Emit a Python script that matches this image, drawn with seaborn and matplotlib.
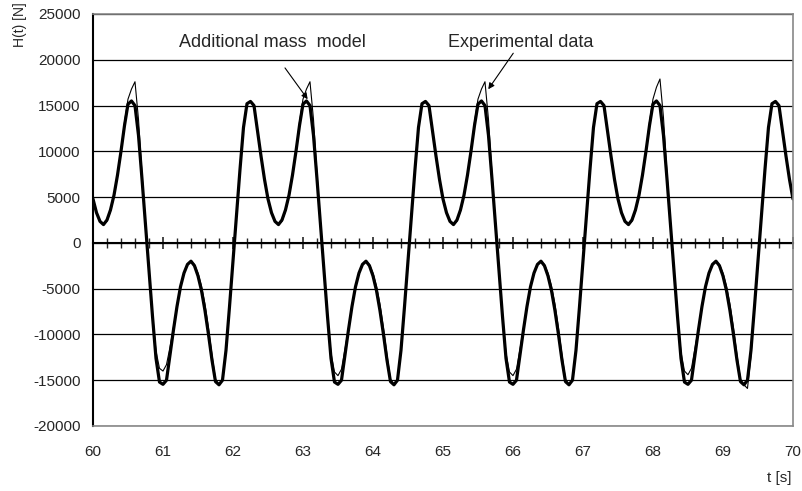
# H(t) force history, 60-70 s: additional mass model vs experimental data
import matplotlib
matplotlib.use("Agg")
import matplotlib.pyplot as plt
import numpy as np
import pandas as pd
import seaborn as sns
from matplotlib import ticker

# sample grid used when reading the curves off the picture (every 0.05 s)
time_s = np.round(np.arange(60.0, 70.0 + 0.001, 0.05), 2)

# thick line - additional mass model [N]
model_N = [
    4800, 3300, 2350, 2000, 2500, 3600, 5200, 7400, 10000, 12800, 15150, 15500, 15000, 11750, 7000, 2000,
    -3000, -8000, -12600, -15200, -15450, -15000, -12250, -9500, -6950, -4800, -3300, -2350, -2000,
    -2500, -3600, -5200, -7400, -10000, -12800, -15150, -15500, -15000, -11750, -7000, -2000,
    3000, 8000, 12600, 15200, 15450, 15000, 12250, 9500, 6950, 4800, 3300, 2350, 2000,
    2500, 3600, 5200, 7400, 10000, 12800, 15150, 15500, 15000, 11750, 7000, 2000,
    -3000, -8000, -12600, -15200, -15450, -15000, -12250, -9500, -6950, -4800, -3300, -2350, -2000,
    -2500, -3600, -5200, -7400, -10000, -12800, -15150, -15500, -15000, -11750, -7000, -2000,
    3000, 8000, 12600, 15200, 15450, 15000, 12250, 9500, 6950, 4800, 3300, 2350, 2000,
    2500, 3600, 5200, 7400, 10000, 12800, 15150, 15500, 15000, 11750, 7000, 2000,
    -3000, -8000, -12600, -15200, -15450, -15000, -12250, -9500, -6950, -4800, -3300, -2350, -2000,
    -2500, -3600, -5200, -7400, -10000, -12800, -15150, -15500, -15000, -11750, -7000, -2000,
    3000, 8000, 12600, 15200, 15450, 15000, 12250, 9500, 6950, 4800, 3300, 2350, 2000,
    2500, 3600, 5200, 7400, 10000, 12800, 15150, 15500, 15000, 11750, 7000, 2000,
    -3000, -8000, -12600, -15200, -15450, -15000, -12250, -9500, -6950, -4800, -3300, -2350, -2000,
    -2500, -3600, -5200, -7400, -10000, -12800, -15150, -15500, -15000, -11750, -7000, -2000,
    3000, 8000, 12600, 15200, 15450, 15000, 12250, 9500, 6950, 4800,
]

# thin line - experimental data [N]
experiment_N = [
    4900, 3400, 2400, 2000, 2350, 3450, 5050, 7300, 10000, 13200, 15700, 16800, 17600, 13500, 7600, 2200,
    -3000, -7800, -11800, -13700, -14000, -13300, -11400, -9200, -6900, -4800, -3300, -2350, -2000,
    -2350, -3300, -4700, -6700, -9300, -12200, -14900, -15450, -15000, -11800, -7000, -2000,
    3000, 8000, 12600, 15200, 15450, 15000, 12300, 9600, 7000, 4900, 3400, 2400, 2000,
    2350, 3450, 5050, 7300, 10000, 13200, 15700, 16800, 17600, 13500, 7600, 2200,
    -3000, -7900, -12000, -14100, -14500, -13800, -11600, -9300, -6900, -4800, -3300, -2350, -2000,
    -2350, -3300, -4700, -6700, -9300, -12200, -14900, -15450, -15000, -11800, -7000, -2000,
    3000, 8000, 12600, 15200, 15450, 15000, 12300, 9600, 7000, 4900, 3400, 2400, 2000,
    2350, 3450, 5050, 7300, 10000, 13200, 15700, 16800, 17600, 13500, 7600, 2200,
    -3000, -7900, -12000, -14100, -14500, -13800, -11600, -9300, -6900, -4800, -3300, -2350, -2000,
    -2350, -3300, -4700, -6700, -9300, -12200, -14900, -15450, -15000, -11800, -7000, -2000,
    3000, 8000, 12600, 15200, 15450, 15000, 12300, 9600, 7000, 4900, 3400, 2400, 2000,
    2350, 3450, 5050, 7300, 10000, 13200, 15700, 17000, 17900, 13700, 7700, 2200,
    -3000, -7900, -11900, -14000, -14400, -13700, -11500, -9300, -6900, -4800, -3300, -2350, -2000,
    -2350, -3300, -4700, -6700, -9300, -12200, -14900, -15500, -15900, -12400, -7200, -2000,
    3000, 8000, 12600, 15200, 15450, 15000, 12250, 9500, 6950, 4800,
]

x_ticks = list(range(60, 71))
y_ticks = list(range(-20000, 25001, 5000))

assert len(model_N) == len(time_s) == len(experiment_N)

if __name__ == "__main__":
    sns.set_style("white")
    plt.rcParams['font.family'] = ['Liberation Sans', 'DejaVu Sans']
    plt.rcParams['axes.unicode_minus'] = False  # plain hyphen like the original

    df = pd.DataFrame({'t': time_s, 'model': model_N, 'experiment': experiment_N})

    fig, ax = plt.subplots(figsize=(8.03, 4.91), dpi=100)
    fig.subplots_adjust(left=0.1158, right=0.9875, bottom=0.1324, top=0.9715)

    sns.lineplot(data=df, x='t', y='model', color='black', lw=2.3, ax=ax)
    sns.lineplot(data=df, x='t', y='experiment', color='black', lw=0.8, ax=ax)

    ax.set_xlim(60, 70)
    ax.set_ylim(-20000, 25000)
    ax.set_xticks(x_ticks)
    ax.set_yticks(y_ticks)
    ax.yaxis.set_minor_locator(ticker.MultipleLocator(1000))
    ax.grid(axis='y', which='major', color='black', lw=0.9)
    ax.tick_params(axis='x', length=0, pad=14, labelsize=11)
    ax.tick_params(axis='y', which='both', direction='in', length=3.5, width=1, labelsize=11, pad=9)

    for side in ['top', 'right', 'bottom']:
        ax.spines[side].set_color('#888888')
        ax.spines[side].set_linewidth(1.2)
    ax.spines['left'].set_color('black')
    ax.spines['left'].set_linewidth(1.5)

    # time axis drawn through zero with crossing ticks
    sec = ax.secondary_xaxis(4 / 9)
    sec.set_xticks(x_ticks)
    sec.xaxis.set_minor_locator(ticker.MultipleLocator(0.2))
    sec.tick_params(which='major', direction='inout', length=9, width=1.2, labelbottom=False)
    sec.tick_params(which='minor', direction='inout', length=6.5, width=1.0, labelbottom=False)
    sec.spines['bottom'].set_color('black')
    sec.spines['bottom'].set_linewidth(1.5)

    ax.set_ylabel('H(t) [N]', fontsize=10)
    ax.yaxis.set_label_coords(-0.094, 0.975)
    ax.set_xlabel('t [s]', fontsize=11)
    ax.xaxis.set_label_coords(0.98, -0.109)

    ax.text(62.57, 21840, 'Additional mass  model', fontsize=13, ha='center', va='center')
    ax.text(66.11, 21840, 'Experimental data', fontsize=13, ha='center', va='center')
    arrow = dict(arrowstyle='-|>', color='black', lw=0.8, mutation_scale=9, shrinkA=0, shrinkB=0)
    ax.annotate('', xy=(63.067, 15690), xytext=(62.743, 19110), arrowprops=arrow)
    ax.annotate('', xy=(65.647, 16780), xytext=(66.004, 20715), arrowprops=arrow)

    fig.savefig('out.png', dpi=100)
